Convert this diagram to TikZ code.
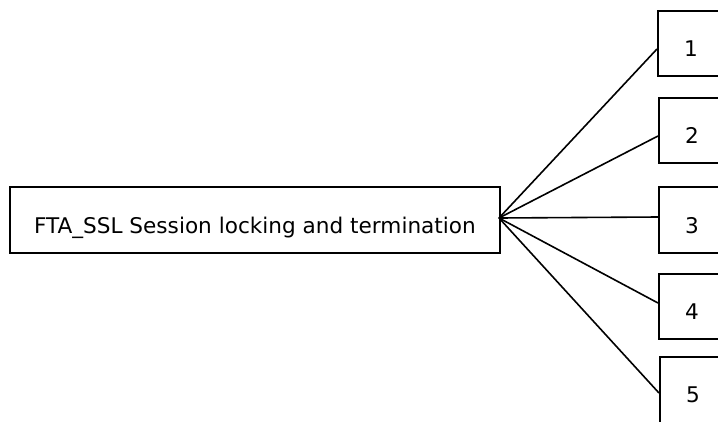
\documentclass[tikz,border=0pt]{standalone}
\usepackage{fontspec}
\setmainfont{DejaVu Sans}
\begin{document}
\begin{tikzpicture}[x=1pt,y=-1pt,
  box/.style={draw=black,line width=1.8pt,fill=white,anchor=north west,inner sep=0pt,font=\fontsize{21.6}{25}\selectfont},
  rootbox/.style={box,minimum width=490pt,minimum height=66pt},
  numbox/.style={box,minimum width=66pt,minimum height=65pt},
  link/.style={draw=black,line width=1.6pt}]
  \useasboundingbox (0,0) rectangle (718,421);
  \clip (0,0) rectangle (718,421);
  % root box
  \node[rootbox] (root) at (9,186) {\raisebox{-14pt}[0pt][0pt]{FTA\_SSL Session locking and termination}};
  % child boxes (right part runs off the page)
  \node[numbox] (c1) at (657,10) {\raisebox{-13pt}[0pt][0pt]{1}};
  \node[numbox] (c2) at (658,97) {\raisebox{-13pt}[0pt][0pt]{2}};
  \node[numbox,minimum height=66pt] (c3) at (658,186) {\raisebox{-14pt}[0pt][0pt]{3}};
  \node[numbox] (c4) at (658,273) {\raisebox{-13pt}[0pt][0pt]{4}};
  \node[numbox,minimum height=66pt] (c5) at (659,356) {\raisebox{-13pt}[0pt][0pt]{5}};
  % connectors
  \coordinate (hub) at (499,218);
  \coordinate (e1) at (657,49);
  \coordinate (e2) at (658,136);
  \coordinate (e3) at (658,217);
  \coordinate (e4) at (658,303);
  \coordinate (e5) at (659,393);
  \foreach \e in {e1,e2,e3,e4,e5} \draw[link] (hub) -- (\e);
\end{tikzpicture}
\end{document}
